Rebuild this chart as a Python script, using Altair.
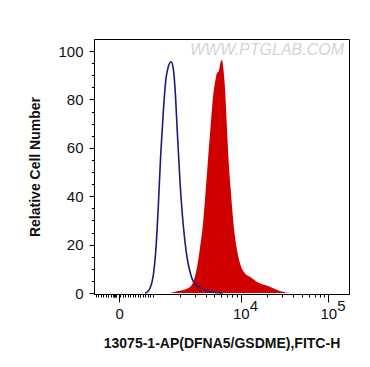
import altair as alt
import pandas as pd

# Display x values are in log10(fluorescence) units (biexponential display)
blue_x = [2.906, 2.925, 2.963, 3.001, 3.031, 3.058, 3.085, 3.115, 3.146, 3.172, 3.203,
          3.229, 3.249, 3.275, 3.306, 3.343, 3.382, 3.420, 3.458, 3.515, 3.591, 3.649, 3.797]
blue_y = [0, 0.3, 2, 7.4, 18.5, 36, 57, 75, 88.7, 93.5, 95.6,
          92.8, 84.6, 66.7, 46, 28, 15.7, 8.8, 4.7, 2.6, 1.2, 0.5, 0]

red_x = [3.191, 3.283, 3.363, 3.420, 3.458, 3.497, 3.534, 3.572, 3.611, 3.649, 3.686,
         3.706, 3.725, 3.751, 3.771, 3.786, 3.801, 3.820, 3.839, 3.858, 3.885, 3.915,
         3.954, 3.991, 4.049, 4.106, 4.182, 4.277, 4.372, 4.468, 4.563]
red_y = [0, 0.8, 1.5, 2.5, 4.7, 10, 18.6, 30, 48, 66, 82,
         87, 90.5, 92, 95.6, 96.3, 92.8, 84.6, 70.8, 57, 43, 29.5,
         18.5, 12.3, 8.1, 6.7, 4.7, 3.3, 2, 0.6, 0]

x_major = [2.612, 4.0, 5.0]
x_exp_pos = [4.0, 5.0]
x_exp_txt = ["4", "5"]
x_minor_log = [3.301, 3.477, 3.602, 3.699, 3.778, 3.845, 3.903, 3.954,
               4.301, 4.477, 4.602, 4.699, 4.778, 4.845, 4.903, 4.954, 3.0]
x_minor_lin = [2.345, 2.371, 2.402, 2.428, 2.459, 2.485, 2.517,
               2.540, 2.548, 2.556, 2.563, 2.571, 2.578,
               2.621, 2.651, 2.680, 2.708, 2.737, 2.766, 2.794, 2.823, 2.851, 2.880, 2.908, 2.937, 2.965]
y_major = [0, 20, 40, 60, 80, 100]
y_minor = [5, 10, 15, 25, 30, 35, 45, 50, 55, 65, 70, 75, 85, 90, 95]

X_DOM = [2.323, 5.237]
Y_DOM = [-0.4, 105]
FONT = "Liberation Sans"

blue = pd.DataFrame({"x": blue_x, "y": blue_y})
red = pd.DataFrame({"x": red_x, "y": red_y})
exps = pd.DataFrame({"x": x_exp_pos, "t": x_exp_txt})

xs = alt.Scale(domain=X_DOM, nice=False, zero=False)
ys = alt.Scale(domain=Y_DOM, nice=False, zero=False)

red_layer = alt.Chart(red).mark_area(color="#d10000", interpolate="monotone", clip=True).encode(
    x=alt.X("x:Q", scale=xs, axis=alt.Axis(
        orient="bottom",
        values=x_major, labelExpr="datum.value < 3 ? '0' : '10'", tickSize=8,
        labelPadding=4, labelFontSize=15, labelFont=FONT, labelColor="#111",
        title="13075-1-AP(DFNA5/GSDME),FITC-H", titleFont=FONT, titleFontSize=14,
        titleFontWeight="bold", titleColor="#111", titleX=127.5, titleY=49,
        titleBaseline="middle", titleAlign="center", grid=False)),
    y=alt.Y("y:Q", scale=ys, axis=alt.Axis(
        orient="left",
        values=y_major, tickSize=5, labelPadding=6, labelFontSize=15, labelFont=FONT,
        labelColor="#111", title="Relative Cell Number", titleFont=FONT, titleFontSize=14,
        titleFontWeight="bold", titleColor="#111", titleX=-59, titleY=127.5,
        titleBaseline="middle", titleAlign="center", grid=False)),
)

blue_layer = alt.Chart(blue).mark_line(color="#1c1c78", strokeWidth=1.6, interpolate="monotone", clip=True).encode(
    x=alt.X("x:Q", scale=xs, axis=None),
    y=alt.Y("y:Q", scale=ys, axis=None),
)

minor_layer = alt.Chart(blue).mark_point(opacity=0).encode(
    x=alt.X("x:Q", scale=xs, axis=alt.Axis(orient="bottom", values=x_minor_log + x_minor_lin, tickSize=3,
                                           labels=False, domain=False, title=None, grid=False)),
    y=alt.Y("y:Q", scale=ys, axis=alt.Axis(orient="left", values=y_minor, tickSize=2.7,
                                           labels=False, domain=False, title=None, grid=False)),
)

exp_layer = alt.Chart(exps).mark_text(align="left", baseline="top", dx=9, fontSize=15,
                                      font=FONT, color="#111").encode(
    x=alt.X("x:Q", scale=xs, axis=None),
    y=alt.value(260),
    text="t:N",
)

wm = alt.Chart(pd.DataFrame({"t": ["WWW.PTGLAB.COM"]})).mark_text(
    align="right", baseline="middle", fontSize=16, font=FONT, fontStyle="italic",
    color="#d4d4d4").encode(x=alt.value(250), y=alt.value(11), text="t:N")

chart = alt.layer(red_layer, blue_layer, minor_layer, exp_layer, wm).resolve_axis(
    x="independent", y="independent"
).properties(
    width=255, height=255,
    autosize=alt.AutoSizeParams(type="none"),
    padding={"left": 86, "top": 31, "right": 13, "bottom": 60},
).configure_view(stroke="black", strokeWidth=1).configure_axis(
    domainColor="black", tickColor="black", domainWidth=1, tickWidth=1
)

chart.save("out.html", embed_options={"renderer": "svg", "actions": False})
